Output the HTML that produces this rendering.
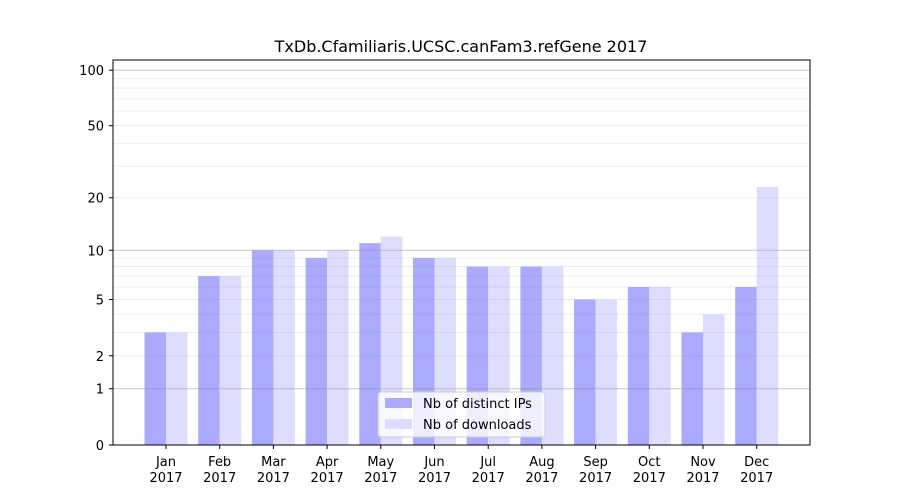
<!DOCTYPE html>
<html><head><style>body{margin:0;background:#fff}svg{display:block;font-family:"DejaVu Sans","Liberation Sans",sans-serif}</style></head><body>
<svg width="900" height="500" xmlns="http://www.w3.org/2000/svg">
<rect width="900" height="500" fill="#fff"/>
<g id="bars"></g>
<g id="grid"></g>
<rect x="113" y="60" width="697" height="385" fill="none" stroke="#000" stroke-width="1"/>
<g id="ticks" font-size="13" fill="#000"></g>
<text x="461" y="52" font-size="16" text-anchor="middle">TxDb.Cfamiliaris.UCSC.canFam3.refGene 2017</text>
<g>
<rect x="378" y="392" width="167" height="45" rx="3" fill="#fff" fill-opacity="0.8" stroke="#ccc"/>
<rect x="385" y="398" width="27" height="10" fill="#aaaaff"/>
<text x="423" y="408" font-size="13">Nb of distinct IPs</text>
<rect x="385" y="419" width="27" height="10" fill="#ddddff"/>
<text x="423" y="429" font-size="13">Nb of downloads</text>
</g>
<script>
var Y=function(v){return 445-187*Math.log10(1+v)};
var ns="http://www.w3.org/2000/svg";
function el(p,t,a,txt){var e=document.createElementNS(ns,t);for(var k in a)e.setAttribute(k,a[k]);if(txt!=null)e.textContent=txt;document.getElementById(p).appendChild(e);return e;}
var minors=[2,3,4,5,6,7,8,9,20,30,40,50,60,70,80,90];
minors.forEach(function(v){el("grid","line",{x1:113,x2:810,y1:Y(v),y2:Y(v),stroke:"#888","stroke-opacity":0.15,"stroke-width":1});});
[1,10,100].forEach(function(v){el("grid","line",{x1:113,x2:810,y1:Y(v),y2:Y(v),stroke:"#888","stroke-opacity":0.45,"stroke-width":1});});
var ip=[3,7,10,9,11,9,8,8,5,6,3,6],dl=[3,7,10,10,12,9,8,8,5,6,4,23];
var m=["Jan","Feb","Mar","Apr","May","Jun","Jul","Aug","Sep","Oct","Nov","Dec"];
for(var i=0;i<12;i++){var c=166+i*53.7;
el("bars","rect",{x:c-21.5,y:Y(ip[i]),width:21.5,height:445-Y(ip[i]),fill:"#aaaaff"});
el("bars","rect",{x:c,y:Y(dl[i]),width:21.5,height:445-Y(dl[i]),fill:"#ddddff"});
el("ticks","line",{x1:c,x2:c,y1:445,y2:449,stroke:"#000"});
el("ticks","text",{x:c,y:466,"text-anchor":"middle"},m[i]);
el("ticks","text",{x:c,y:482,"text-anchor":"middle"},"2017");}
[0,1,2,5,10,20,50,100].forEach(function(v){el("ticks","line",{x1:109,x2:113,y1:Y(v),y2:Y(v),stroke:"#000"});
el("ticks","text",{x:104,y:Y(v)+5,"text-anchor":"end"},String(v));});
</script>
</svg>
</body></html>
